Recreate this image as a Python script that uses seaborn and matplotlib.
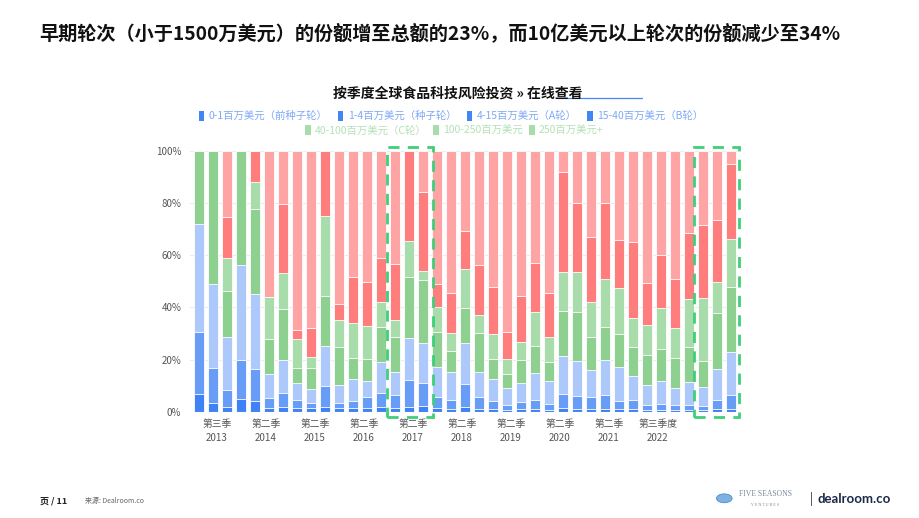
import numpy as np
import pandas as pd
import matplotlib
matplotlib.use("Agg")
import matplotlib.pyplot as plt
import seaborn as sns
from matplotlib.patches import Patch, Rectangle, Circle
from matplotlib.lines import Line2D

# quarters 2013 Q1 .. 2022 Q3
quarters = [f"{y}Q{q}" for y in range(2013, 2023) for q in range(1, 5)][:39]

# share of funding per round size (%)
seg_0_1 = [6.6, 3.2, 1.9, 4.7, 4.0, 1.3, 1.9, 1.3, 1.3, 1.9, 1.3, 1.3, 1.5, 1.7, 1.3, 1.9, 2.3, 1.5, 0.9, 1.9,
           1.2, 0.9, 0.6, 0.9, 1.2, 0.6, 1.3, 1.2, 1.2, 1.2, 0.9, 0.9, 0.6, 0.6, 0.6, 0.6, 0.6, 0.9, 1.2]
seg_1_4 = [24.1, 13.7, 6.4, 15.1, 12.5, 3.8, 5.4, 3.2, 1.9, 7.9, 1.9, 2.9, 4.3, 5.6, 5.1, 10.2, 8.8, 4.1, 3.6, 8.6,
           4.3, 3.3, 2.0, 2.8, 3.4, 2.3, 5.3, 4.9, 4.3, 5.2, 3.3, 3.7, 2.0, 2.2, 2.0, 2.0, 1.7, 3.6, 5.2]
seg_4_15 = [41.3, 32.1, 20.3, 36.3, 28.5, 9.2, 12.5, 6.4, 5.4, 15.5, 7.0, 8.2, 6.0, 11.9, 8.7, 16.0, 15.4, 11.7, 10.8, 15.7,
            9.8, 8.2, 6.4, 7.3, 10.1, 8.7, 14.8, 13.3, 10.5, 13.4, 12.8, 9.1, 7.5, 9.0, 6.4, 8.7, 7.0, 11.7, 16.6]
seg_15_40 = [28.0, 51.0, 17.7, 43.9, 32.6, 13.4, 19.5, 6.0, 8.3, 19.2, 14.7, 8.1, 8.3, 13.4, 13.4, 23.7, 24.0, 13.4, 8.1, 13.4,
             15.0, 7.7, 5.3, 8.8, 10.6, 7.6, 17.3, 19.0, 12.8, 12.6, 12.8, 11.0, 11.5, 12.4, 11.5, 13.6, 10.3, 21.5, 25.0]
seg_40_100 = [0, 0, 12.8, 0, 10.6, 16.2, 13.8, 11.1, 3.9, 30.6, 10.3, 13.5, 12.9, 9.3, 6.7, 13.7, 3.5, 9.6, 6.7, 15.0,
              6.8, 9.7, 5.9, 6.9, 13.1, 9.4, 15.0, 15.3, 13.3, 18.4, 17.5, 11.1, 11.6, 15.4, 11.5, 18.2, 23.9, 11.9, 18.1]
seg_100_250 = [0, 0, 15.7, 0, 11.8, 0, 26.4, 3.2, 11.2, 24.9, 6.0, 17.5, 16.9, 17.2, 21.4, 34.5, 30.4, 8.7, 15.3, 14.8,
               19.0, 18.2, 10.5, 17.8, 18.5, 17.1, 38.4, 26.2, 24.9, 29.4, 18.6, 29.2, 16.0, 20.5, 18.8, 25.6, 28.1, 23.9, 28.8]
seg_250p = [0, 0, 25.2, 0, 0, 56.1, 20.5, 68.8, 68.0, 0, 58.8, 48.5, 50.1, 40.9, 43.4, 0, 15.6, 51.0, 54.6, 30.6,
            43.9, 52.0, 69.3, 55.5, 43.1, 54.3, 7.9, 20.1, 33.0, 19.8, 34.1, 35.0, 50.8, 39.9, 49.2, 31.3, 28.4, 26.5, 5.1]

series_names = ["0-1百万美元（前种子轮）", "1-4百万美元（种子轮）", "4-15百万美元（A轮）", "15-40百万美元（B轮）",
                "40-100百万美元（C轮）", "100-250百万美元", "250百万美元+"]
bar_colors = ["#3f82f5", "#679cf7", "#adc8fb", "#8dd08f", "#a9dcab", "#ff7d7d", "#ffa4a4"]
legend_colors = ["#4285f4"] * 4 + ["#a8dcaa"] * 3
legend_text_colors = ["#7fa9f6"] * 4 + ["#b5e0b6"] * 3

tick_labels = ["第三季\n2013", "第二季\n2014", "第二季\n2015", "第二季\n2016", "第二季\n2017",
               "第二季\n2018", "第二季\n2019", "第二季\n2020", "第二季\n2021", "第三季度\n2022"]

segs = [seg_0_1, seg_1_4, seg_4_15, seg_15_40, seg_40_100, seg_100_250, seg_250p]
df = pd.DataFrame({"quarter": quarters})
for name, s in zip(series_names, segs):
    df[name] = s
# normalise each bar to 100%
tot = df[series_names].sum(axis=1)
for name in series_names:
    df[name] = df[name] / tot * 100
cum = df[series_names].cumsum(axis=1)

sns.set_theme(style="white")
cjk = ["Noto Sans CJK SC", "DejaVu Sans"]
plt.rcParams["font.family"] = cjk

fig = plt.figure(figsize=(9.2, 5.18), dpi=100)
ax = fig.add_axes([0.206, 0.2052, 0.5965, 0.5033])

# draw cumulative bars from the top layer down so each layer shows
for name, col in reversed(list(zip(series_names, bar_colors))):
    sns.barplot(x=df["quarter"], y=cum[name], color=col, order=quarters, width=0.72,
                edgecolor="white", linewidth=0.6, saturation=1, ax=ax, zorder=3)

ax.set_xlim(-0.7, 38.5)
ax.set_ylim(0, 100)
ax.set_yticks(range(0, 101, 20))
ax.set_yticklabels([f"{v}%" for v in range(0, 101, 20)])
ax.yaxis.grid(True, color="#ececec", linewidth=0.8, zorder=0)
ax.set_xticks([1.25 + 3.5 * i for i in range(len(tick_labels))])
ax.set_xticklabels(tick_labels, linespacing=1.5)
ax.tick_params(axis="both", length=0, labelsize=7, labelcolor="#555555", pad=5)
ax.tick_params(axis="y", pad=6)
ax.set_xlabel("")
ax.set_ylabel("")
for sp in ax.spines.values():
    sp.set_visible(False)
ax.axhline(0, color="#dddddd", linewidth=0.8, zorder=4)

# dashed highlight boxes
for x0, x1 in [(13.43, 16.71), (35.34, 38.57)]:
    ax.add_patch(Rectangle((x0, -1.9), x1 - x0, 103.6, fill=False, edgecolor="#3ecf78",
                           linewidth=2.0, linestyle=(0, (4, 3)), clip_on=False, zorder=5))

# headings
fig.text(0.043, 0.935, "早期轮次（小于1500万美元）的份额增至总额的23%，而10亿美元以上轮次的份额减少至34%",
         fontsize=13.8, fontweight="bold", color="#111111", va="center", ha="left")
fig.text(0.498, 0.82, "按季度全球食品科技风险投资 » 在线查看", fontsize=10, fontweight="bold",
         color="#111111", ha="center", va="center")
fig.add_artist(Line2D([556.7 / 920, 641.7 / 920], [1 - 97.7 / 518, 1 - 97.7 / 518],
                      color="#4a86f0", linewidth=0.9))

# legend in two rows
h1 = [Patch(facecolor=c, edgecolor="none") for c in legend_colors]
leg1 = fig.legend(h1[:4], series_names[:4], loc="center", bbox_to_anchor=(0.49, 0.776), ncol=4,
                  frameon=False, fontsize=7.5, handlelength=0.55, handleheight=1.1,
                  handletextpad=0.4, columnspacing=1.0)
for t, c in zip(leg1.get_texts(), legend_text_colors[:4]):
    t.set_color(c)
leg2 = fig.legend(h1[4:], series_names[4:], loc="center", bbox_to_anchor=(0.494, 0.748), ncol=3,
                  frameon=False, fontsize=7.5, handlelength=0.55, handleheight=1.1,
                  handletextpad=0.4, columnspacing=0.6)
for t, c in zip(leg2.get_texts(), legend_text_colors[4:]):
    t.set_color(c)

# footer
fig.text(0.043, 0.033, "页 / 11", fontsize=6.5, fontweight="bold", color="#222222", va="center")
fig.text(0.092, 0.033, "来源: Dealroom.co", fontsize=5, color="#666666", va="center")
fig.add_artist(Circle((724.3 / 920, 1 - 498.3 / 518), 0.0085, transform=fig.transFigure,
                      facecolor="#7fb2e0", edgecolor="#4a8ccc", linewidth=0.6))
fig.text(0.803, 0.046, "FIVE SEASONS", fontsize=5.5, color="#7a8a9a", ha="left", va="center",
         family=["Liberation Serif", "DejaVu Serif"])
fig.text(0.816, 0.025, "V E N T U R E S", fontsize=3, color="#7a8a9a", ha="left", va="center",
         family=["Liberation Serif", "DejaVu Serif"])
fig.text(0.882, 0.036, "|", fontsize=9, color="#1b2a48", ha="center", va="center")
fig.text(0.968, 0.036, "dealroom.co", fontsize=9.5, fontweight="bold", color="#1b2a48",
         ha="right", va="center", family=["Lato", "DejaVu Sans"])

fig.savefig("out.png", dpi=100)
